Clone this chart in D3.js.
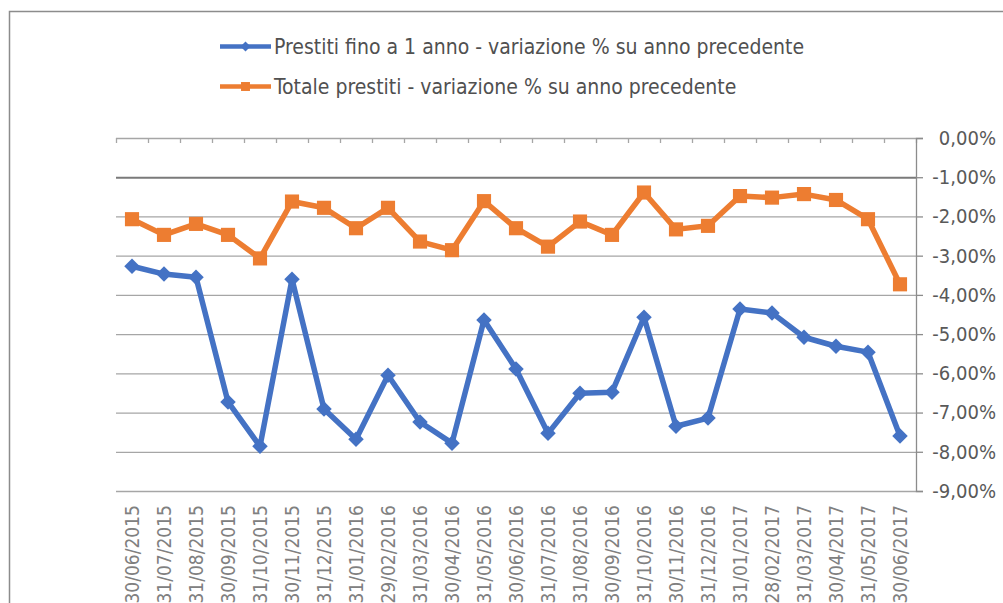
<!DOCTYPE html>
<html>
<head>
<meta charset="utf-8">
<script src="https://cdn.jsdelivr.net/npm/d3@7"></script>
<style>
  body { margin: 0; background: #fff; }
  svg { display: block; }
  text { font-family: "Liberation Sans Narrow", "DejaVu Sans Condensed", Roboto, sans-serif; }
</style>
</head>
<body>
<script>
// date di riferimento (asse categorie)
var dates = ["30/06/2015","31/07/2015","31/08/2015","30/09/2015","31/10/2015","30/11/2015",
  "31/12/2015","31/01/2016","29/02/2016","31/03/2016","30/04/2016","31/05/2016","30/06/2016",
  "31/07/2016","31/08/2016","30/09/2016","31/10/2016","30/11/2016","31/12/2016","31/01/2017",
  "28/02/2017","31/03/2017","30/04/2017","31/05/2017","30/06/2017"];

// prestiti fino a 1 anno - variazione %
var breve = [-3.27,-3.47,-3.55,-6.73,-7.86,-3.60,-6.91,-7.68,-6.05,-7.24,-7.78,-4.64,-5.89,
  -7.53,-6.51,-6.48,-4.57,-7.35,-7.14,-4.36,-4.46,-5.08,-5.31,-5.46,-7.60];

// totale prestiti - variazione %
var totale = [-2.07,-2.47,-2.19,-2.47,-3.07,-1.62,-1.78,-2.30,-1.78,-2.64,-2.86,-1.61,-2.30,
  -2.77,-2.13,-2.47,-1.39,-2.33,-2.24,-1.48,-1.52,-1.43,-1.58,-2.07,-3.73];

var yTicks = [0,-1,-2,-3,-4,-5,-6,-7,-8,-9];
var legendLabels = ["Prestiti fino a 1 anno - variazione % su anno precedente",
  "Totale prestiti - variazione % su anno precedente"];

var width = 1003, height = 603;
var pLeft = 116, pRight = 916, pTop = 138, pBottom = 491;
var blue = "#4472c4", orange = "#ed7d31";

var svg = d3.select("body").append("svg").attr("width", width).attr("height", height);

// cornice
svg.append("rect").attr("x", 9.5).attr("y", 11.5).attr("width", 1010).attr("height", 610)
  .attr("fill", "none").attr("stroke", "#8c8c8c").attr("stroke-width", 1.5);

var x = d3.scaleBand().domain(dates).range([pLeft, pRight]);
var y = d3.scaleLinear().domain([-9, 0]).range([pBottom, pTop]);

// griglia
svg.append("g").selectAll("line").data(yTicks).enter().append("line")
  .attr("x1", pLeft).attr("x2", pRight)
  .attr("y1", function(d){ return y(d) + 0.5; }).attr("y2", function(d){ return y(d) + 0.5; })
  .attr("stroke", function(d){ return d == -1 ? "#7a7a7a" : "#a6a6a6"; })
  .attr("stroke-width", function(d){ return d == -1 ? 2 : 1.3; });

// asse categorie in alto con tacche
var bounds = dates.map(function(d){ return x(d); }).concat([x.range()[1]]);
svg.append("g").selectAll("line").data(bounds).enter().append("line")
  .attr("x1", function(d){ return d + 0.5; }).attr("x2", function(d){ return d + 0.5; })
  .attr("y1", pTop).attr("y2", pTop + 5)
  .attr("stroke", "#a6a6a6").attr("stroke-width", 1.3);

// asse valori a destra
var yAxis = svg.append("g").attr("transform", "translate(" + pRight + ",0)")
  .call(d3.axisRight(y).tickValues(yTicks).tickSize(7)
    .tickFormat(function(d){ return d3.format(".2f")(d).replace(".", ",").replace("−", "-") + "%"; }));
yAxis.select(".domain").attr("stroke", "#8c8c8c").attr("stroke-width", 1.3);
yAxis.selectAll(".tick line").attr("stroke", "#8c8c8c").attr("stroke-width", 1.3);
yAxis.selectAll(".tick text").attr("x", 80).attr("text-anchor", "end")
  .attr("fill", "#595959").style("font-size", "20px");

// etichette date in basso
var xAxis = svg.append("g").attr("transform", "translate(0," + pBottom + ")")
  .call(d3.axisBottom(x).tickSize(0));
xAxis.select(".domain").remove();
xAxis.selectAll(".tick text").attr("transform", "rotate(-90)")
  .attr("x", -14).attr("y", 0).attr("dy", "0.35em").attr("text-anchor", "end")
  .attr("fill", "#808080").style("font-size", "19px");

// linee
var line = d3.line()
  .x(function(d, i){ return x(dates[i]) + x.bandwidth() / 2; })
  .y(function(d){ return y(d); });

svg.append("path").datum(totale).attr("fill", "none").attr("stroke", orange)
  .attr("stroke-width", 5.5).attr("stroke-linejoin", "round").attr("d", line);
svg.append("path").datum(breve).attr("fill", "none").attr("stroke", blue)
  .attr("stroke-width", 5.5).attr("stroke-linejoin", "round").attr("d", line);

var sq = d3.symbol().type(d3.symbolSquare).size(200);
var dia = d3.symbol().type(d3.symbolSquare).size(120);

svg.append("g").selectAll("path").data(totale).enter().append("path")
  .attr("d", sq).attr("fill", orange)
  .attr("transform", function(d, i){ return "translate(" + (x(dates[i]) + x.bandwidth() / 2) + "," + y(d) + ")"; });
svg.append("g").selectAll("path").data(breve).enter().append("path")
  .attr("d", dia).attr("fill", blue)
  .attr("transform", function(d, i){ return "translate(" + (x(dates[i]) + x.bandwidth() / 2) + "," + y(d) + ") rotate(45)"; });

// legenda
var legend = svg.append("g");
var leg = legend.selectAll("g").data(legendLabels).enter().append("g")
  .attr("transform", function(d, i){ return "translate(220," + (46.5 + i * 40) + ")"; });
leg.append("line").attr("x1", 0).attr("x2", 51).attr("y1", 0).attr("y2", 0)
  .attr("stroke", function(d, i){ return i == 0 ? blue : orange; }).attr("stroke-width", 4.5);
leg.append("path")
  .attr("d", function(d, i){ return i == 0 ? d3.symbol().type(d3.symbolSquare).size(50)() : d3.symbol().type(d3.symbolSquare).size(80)(); })
  .attr("transform", function(d, i){ return "translate(25.5,0)" + (i == 0 ? " rotate(45)" : ""); })
  .attr("fill", function(d, i){ return i == 0 ? blue : orange; });
leg.append("text").attr("x", 54).attr("y", 0).attr("dy", "0.35em")
  .attr("fill", "#505050").style("font-size", "21px").text(function(d){ return d; });
</script>
</body>
</html>
